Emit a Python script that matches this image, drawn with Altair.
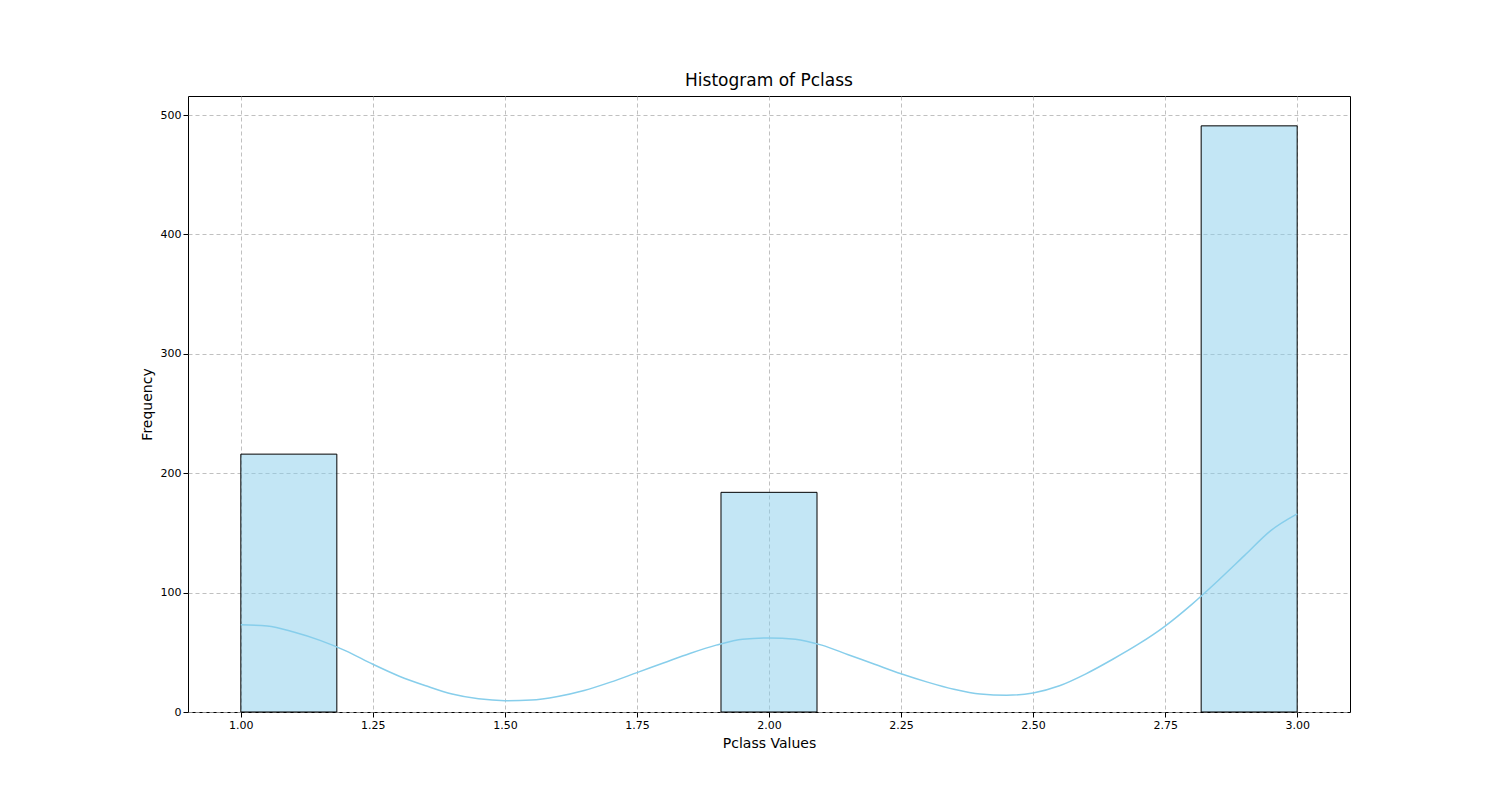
import altair as alt
import pandas as pd

bin_start = [1.0, 1.9091, 2.8182]
bin_end = [1.1818, 2.0909, 3.0]
counts = [216, 184, 491]

kde_x = [1.00,1.05,1.10,1.15,1.20,1.25,1.30,1.35,1.40,1.45,1.50,1.55,1.60,1.65,1.70,1.75,1.80,1.85,1.90,1.95,2.00,
         2.05,2.10,2.15,2.20,2.25,2.30,2.35,2.40,2.45,2.50,2.55,2.60,2.65,2.70,2.75,2.80,2.85,2.90,2.95,3.00]
kde_y = [73,72,67,60,51,40,30,22,15,11,9.5,10,13,18,25,33,41,49,56,61,62,
         61,56,48,40,32,25,19,15,14,16,22,32,44,57,72,90,110,131,152,166]

bars = pd.DataFrame({"x": bin_start, "x2": bin_end, "y": counts})
kde = pd.DataFrame({"x": kde_x, "y": kde_y})

xs = alt.Scale(domain=[0.9, 3.1], nice=False, zero=False)
ys = alt.Scale(domain=[0, 516], nice=False)

xax = alt.Axis(title="Pclass Values", values=[1.0,1.25,1.5,1.75,2.0,2.25,2.5,2.75,3.0], format=".2f",
               gridDash=[4, 3], gridColor="#b0b0b0", gridOpacity=0.8)
yax = alt.Axis(title="Frequency", values=[0,100,200,300,400,500],
               gridDash=[4, 3], gridColor="#b0b0b0", gridOpacity=0.8)

b = alt.Chart(bars).mark_rect(fill="#87CEEB", fillOpacity=0.5, stroke="black", strokeWidth=1).encode(
    x=alt.X("x:Q", scale=xs, axis=xax), x2="x2", y=alt.Y("y:Q", scale=ys, axis=yax), y2=alt.datum(0))
l = alt.Chart(kde).mark_line(color="#87CEEB", strokeWidth=1.5, interpolate="monotone").encode(
    x=alt.X("x:Q", scale=xs), y=alt.Y("y:Q", scale=ys))

chart = (b + l).properties(
    width=1162, height=616, title="Histogram of Pclass",
    autosize=alt.AutoSizeParams(type="none"),
    padding={"left": 180, "top": 88, "right": 140, "bottom": 80},
).configure(font="DejaVu Sans").configure_view(stroke="black", strokeWidth=1).configure_axis(
    labelFontSize=11, titleFontSize=14, titleFontWeight="normal", labelColor="black", titleColor="black",
    domain=False, tickColor="black", labelFont="DejaVu Sans", titleFont="DejaVu Sans", titlePadding=6
).configure_title(fontSize=17, fontWeight="normal", font="DejaVu Sans", offset=6)

chart.save("out.html", embed_options={"renderer": "svg", "actions": False})
